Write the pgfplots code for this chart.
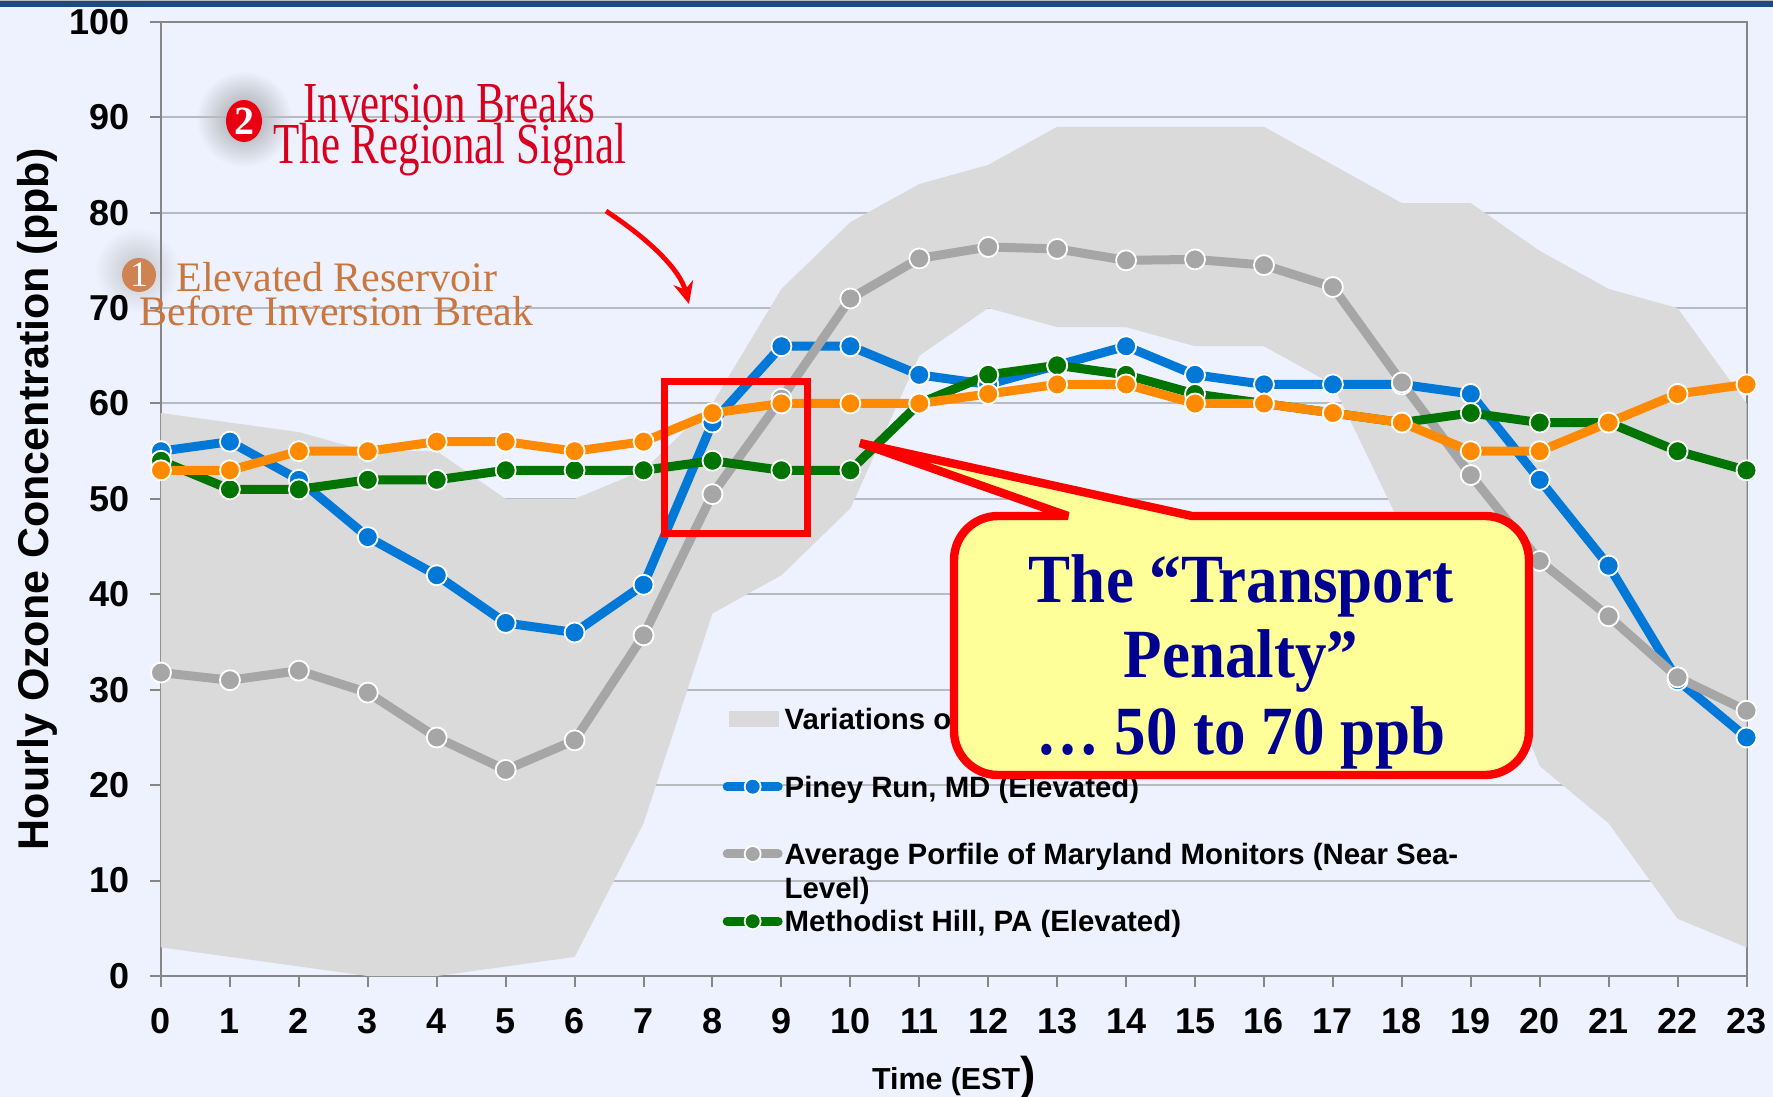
\documentclass[border=0pt]{standalone}
\usepackage{fontspec}
\setmainfont{Liberation Sans}
\newfontfamily\tnr[Ligatures=TeX]{Liberation Serif}
\usepackage{pgfplots}
\pgfplotsset{compat=1.18}
\usetikzlibrary{arrows.meta}
\definecolor{bgc}{HTML}{EEF2FE}
\definecolor{band}{HTML}{DADADA}
\definecolor{piney}{HTML}{0078D8}
\definecolor{avg}{HTML}{A6A6A6}
\definecolor{meth}{HTML}{007400}
\definecolor{orng}{HTML}{FF8A00}
\definecolor{gridc}{HTML}{B8BAC2}
\definecolor{axc}{HTML}{868686}
\definecolor{navy}{HTML}{1F4A80}
\definecolor{calltxt}{HTML}{000090}
\definecolor{callf}{HTML}{FFFF99}
\definecolor{brn}{HTML}{C9763F}
\definecolor{redt}{HTML}{D8001E}
\begin{document}
\begin{tikzpicture}[x=0.5pt,y=-0.5pt]
\useasboundingbox (0,0) rectangle (1773,1097);
\fill[bgc] (0,0) rectangle (1773,1097);
\fill[navy] (0,1) rectangle (1773,7);
\fill[gridc] (0,0) rectangle (1773,1);
\shade[inner color=black!45, outer color=bgc, opacity=0.8] (244,119) circle (24pt);
\shade[inner color=black!35, outer color=bgc, opacity=0.6] (137,270) circle (21pt);
\coordinate (O) at (161,976);
\begin{axis}[
  at={(O)}, anchor=south west,
  scale only axis, width=792.75pt, height=477.1pt,
  xmin=0, xmax=23, ymin=0, ymax=100,
  xtick={0,1,...,23}, ytick={0,10,...,100},
  clip=false,
  axis line style={axc,line width=1pt},
  tick style={axc,line width=1pt},
  ymajorgrids, grid style={gridc,line width=1pt},
  major tick length=5.5pt,
  tick align=outside, xtick pos=bottom, ytick pos=left,
  tick label style={/pgf/number format/assume math mode=true, font=\fontsize{18}{18}\selectfont\bfseries},
  yticklabel style={inner sep=0pt, xshift=-10pt},
  xticklabel style={inner sep=0pt, yshift=-10.5pt},
  ylabel={Hourly Ozone Concentration (ppb)},
  ylabel style={font=\fontsize{21.5}{21.5}\selectfont\bfseries, at={(axis description cs:0,0.5)}, anchor=center, yshift=62pt},
  xlabel={Time (EST{\fontsize{23}{23}\selectfont)}},
  xlabel style={font=\fontsize{15.2}{15.2}\selectfont\bfseries, at={(axis description cs:0.5,0)}, anchor=center, yshift=-51pt},
  legend style={at={(0.354,0.2835)}, anchor=north west, draw=none, fill=none, inner sep=0pt, row sep=20.15pt,
    column sep=1pt, cells={anchor=west, text height=12pt, text depth=5pt}, font=\fontsize{14.7}{17}\selectfont\bfseries,
    nodes={inner sep=0pt}},
  legend cell align=left,
]
% Variation envelope
\addplot[fill=band, draw=none, area legend, legend image code/.code={\fill[band] (0pt,-4pt) rectangle (25pt,4pt);}] coordinates {
 (0,59)(1,58)(2,57)(3,55)(4,55)(5,50)(6,50)(7,53)(8,60)(9,72)(10,79)(11,83)(12,85)(13,89)(14,89)(15,89)(16,89)(17,85)(18,81)(19,81)(20,76)(21,72)(22,70)(23,60)
 (23,3)(22,6)(21,16)(20,22)(19,40)(18,47)(17,62)(16,66)(15,66)(14,68)(13,68)(12,70)(11,65)(10,49)(9,42)(8,38)(7,16)(6,2)(5,1)(4,0)(3,0)(2,1)(1,2)(0,3)
} --cycle;
\addlegendentry{Variations of Maryland Monitors}
\addplot[piney, line width=4.5pt, mark=*, mark size=5pt, mark options={fill=piney, draw=white, line width=0.9pt},
  legend image code/.code={\draw[piney,line width=4.5pt,line cap=round] (-1pt,0pt) -- (24.5pt,0pt); \draw[white,line width=.9pt,fill=piney] (11.75pt,0pt) circle (4pt);}] coordinates {
 (0,55)(1,56)(2,52)(3,46)(4,42)(5,37)(6,36)(7,41)(8,58)(9,66)(10,66)(11,63)(12,62)(13,64)(14,66)(15,63)(16,62)(17,62)(18,62)(19,61)(20,52)(21,43)(22,31)(23,25)};
\addlegendentry{Piney Run, MD (Elevated)}
\addplot[avg, line width=4.5pt, mark=*, mark size=5pt, mark options={fill=avg, draw=white, line width=0.9pt},
  legend image code/.code={\draw[avg,line width=4.5pt,line cap=round] (-1pt,0pt) -- (24.5pt,0pt); \draw[white,line width=.9pt,fill=avg] (11.75pt,0pt) circle (4pt);}] coordinates {
 (0,31.8)(1,31)(2,32)(3,29.7)(4,25)(5,21.6)(6,24.7)(7,35.7)(8,50.5)(9,60.5)(10,71)(11,75.2)(12,76.4)(13,76.2)(14,75)(15,75.1)(16,74.5)(17,72.2)(18,62.2)(19,52.5)(20,43.5)(21,37.7)(22,31.3)(23,27.8)};
\addlegendentry{\smash{\parbox[t]{340pt}{Average Porfile of Maryland Monitors (Near Sea-\\Level)}}}
\addplot[meth, line width=4.5pt, mark=*, mark size=5pt, mark options={fill=meth, draw=white, line width=0.9pt},
  legend image code/.code={\draw[meth,line width=4.5pt,line cap=round] (-1pt,0pt) -- (24.5pt,0pt); \draw[white,line width=.9pt,fill=meth] (11.75pt,0pt) circle (4pt);}] coordinates {
 (0,54)(1,51)(2,51)(3,52)(4,52)(5,53)(6,53)(7,53)(8,54)(9,53)(10,53)(11,60)(12,63)(13,64)(14,63)(15,61)(16,60)(17,59)(18,58)(19,59)(20,58)(21,58)(22,55)(23,53)};
\addlegendentry{Methodist Hill, PA (Elevated)}
\addplot[orng, line width=4.5pt, mark=*, mark size=5pt, mark options={fill=orng, draw=white, line width=0.9pt}, forget plot] coordinates {
 (0,53)(1,53)(2,55)(3,55)(4,56)(5,56)(6,55)(7,56)(8,59)(9,60)(10,60)(11,60)(12,61)(13,62)(14,62)(15,60)(16,60)(17,59)(18,58)(19,55)(20,55)(21,58)(22,61)(23,62)};
\end{axis}
% Red box
\draw[red, line width=3.5pt] (664,381) rectangle (807,533);
% Callout
\draw[red, line width=4.2pt, fill=callf, line join=bevel]
  (1068,516) -- (860,443) -- (1192,516) [rounded corners=22pt] -- (1529,516) -- (1529,775) -- (954,775) -- (954,516) [sharp corners] -- cycle;
\newcommand{\calltext}[1]{\scalebox{1.05}[1.15]{#1}}
\node[text=calltxt, font=\tnr\bfseries\fontsize{30}{38}\selectfont, anchor=center] at (1241,586) {\calltext{The “Transport}};
\node[text=calltxt, font=\tnr\bfseries\fontsize{30}{38}\selectfont, anchor=center] at (1241,661) {\calltext{Penalty”}};
\node[text=calltxt, font=\tnr\bfseries\fontsize{30}{38}\selectfont, anchor=center] at (1241,738) {\calltext{\dots\ 50 to 70 ppb}};
% Annotation 2
\fill[redt!60!red] (244,121) ellipse (18 and 21);
\node[text=white, font=\tnr\bfseries\fontsize{20}{20}\selectfont] at (244,121) {2};
\node[text=redt, font=\tnr\fontsize{29}{29}\selectfont, anchor=west, inner sep=0pt] at (303,103) {\scalebox{0.74}[1]{Inversion Breaks}};
\node[text=redt, font=\tnr\fontsize{29}{29}\selectfont, anchor=west, inner sep=0pt] at (273,150) {\scalebox{0.74}[1]{The Regional Signal}};
% Annotation 1
\fill[brn!90!white] (139,275) circle (17);
\node[text=white, font=\tnr\fontsize{18}{18}\selectfont] at (139,275) {1};
\node[text=brn, font=\tnr\fontsize{21}{21}\selectfont, anchor=west, inner sep=0pt] at (176,277) {Elevated Reservoir};
\node[text=brn, font=\tnr\fontsize{21}{21}\selectfont, anchor=west, inner sep=0pt] at (139,311) {Before Inversion Break};
% Arrow
\draw[red, line width=2.4pt, -{Stealth[length=11pt,width=10pt]}] (606,211) .. controls (650,240) and (680,270) .. (689,304);
\end{tikzpicture}
\end{document}
